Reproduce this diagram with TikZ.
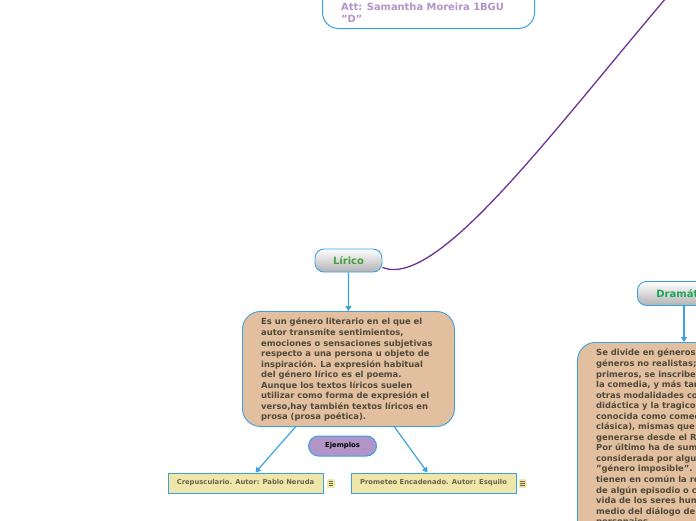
\documentclass[tikz,border=0pt]{standalone}
\usepackage{fontspec}
\setmainfont{DejaVu Sans}
\usetikzlibrary{arrows.meta}
\definecolor{bl}{HTML}{3AA2E2}
\definecolor{tanf}{HTML}{E2BF9F}
\definecolor{txt}{HTML}{4F4A3A}
\definecolor{lilac}{HTML}{B393C9}
\definecolor{purp}{HTML}{6A3495}
\definecolor{ejf}{HTML}{B194C8}
\definecolor{khaki}{HTML}{EEE7A9}
\definecolor{ktxt}{HTML}{6A6450}
\definecolor{grn1}{HTML}{45A043}
\definecolor{grn2}{HTML}{1EA55A}
\tikzset{
  arr/.style={draw=bl, line width=1.2, -{Triangle[width=6,length=5]}},
  topic/.style={draw=bl, line width=0.9, rounded corners=9, top color=white, bottom color=black!30, inner sep=0, font=\bfseries\fontsize{10}{12}\selectfont},
  desc/.style={draw=bl, line width=0.9, fill=tanf, rounded corners=18, inner sep=0},
  desctext/.style={anchor=north west, align=left, inner sep=0, text=txt, font=\bfseries\fontsize{8.4}{10.55}\selectfont},
  example/.style={draw=bl, line width=1, fill=khaki, inner sep=0, minimum height=20, text=ktxt, font=\bfseries\fontsize{6.8}{8}\selectfont},
  noteicon/.style={fill=khaki, rounded corners=1.5, minimum width=8, minimum height=9, inner sep=0},
}
\newcommand{\sq}{\char34}
\begin{document}
\begin{tikzpicture}[x=1pt,y=-1pt]
\useasboundingbox (0,0) rectangle (696,520);
\clip (0,0) rectangle (696,520);

% top box
\node (att) [draw=bl, line width=1, rounded corners=16, fill=white, minimum width=212, minimum height=60, inner sep=0, anchor=south west] at (322,29) {};
\node (attA) [anchor=base west, inner sep=0, text=lilac, font=\bfseries\fontsize{9.9}{11}\selectfont] at (341,10) {Att: Samantha Moreira 1BGU};
\node (attB) [anchor=base west, inner sep=0, text=lilac, font=\bfseries\fontsize{9.9}{11}\selectfont] at (341,22) {\sq D\sq};

% Lirico branch
\node (lir) [topic, minimum width=67, minimum height=23, text=grn1] at (348.5,260.5) {Lírico};
\node (d1) [desc, minimum width=212, minimum height=115, anchor=north west] at (242,311) {};
\node (d1t) [desctext] at (261,318) {Es un género literario en el que el\\autor transmite sentimientos,\\emociones o sensaciones subjetivas\\respecto a una persona u objeto de\\inspiración. La expresión habitual\\del género lírico es el poema.\\Aunque los textos líricos suelen\\utilizar como forma de expresión el\\verso,hay también textos líricos en\\prosa (prosa poética).};
\draw[arr] (lir.south) -- (d1.north);

\node (ej) [draw=bl, line width=1, fill=ejf, rounded corners=10, minimum width=68, minimum height=20, inner sep=0, font=\bfseries\fontsize{6.8}{8}\selectfont] at (342.5,446) {Ejemplos};

\node (crep) [example, minimum width=155] at (245.5,483) {Crepusculario. Autor: Pablo Neruda};
\node (prom) [example, minimum width=165] at (433.5,483) {Prometeo Encadenado. Autor: Esquilo};
\draw[arr] ([xshift=-53]d1.south) -- ([xshift=10]crep.north);
\draw[arr] ([xshift=46]d1.south) -- ([xshift=-6]prom.north);

\node (ic1) [noteicon] at (331,483.5) {};
\node (ic2) [noteicon] at (522.5,483.5) {};
\foreach \n in {ic1,ic2}{
  \foreach \dy in {-2.2,0,2.2}{
    \draw[ktxt, line width=0.7] ([xshift=-2.3,yshift=\dy]\n.center) -- ([xshift=2.3,yshift=\dy]\n.center);
  }
}

% Dramatico branch
\node (dra) [topic, minimum width=96, minimum height=24, text=grn2, anchor=north west] at (637,281) {Dramático};
\node (d2) [desc, minimum width=213, minimum height=200, anchor=north west] at (577,342) {};
\node (d2t) [desctext] at (596,349) {Se divide en géneros realistas y\\géneros no realistas; dentro de los\\primeros, se inscriben la tragedia,\\la comedia, y más tardíamente\\otras modalidades como la obra\\didáctica y la tragicomedia\\conocida como comedia neo\\clásica), mismas que comenzaron a\\generarse desde el Renacimiento.\\Por último ha de sumarse la ópera,\\considerada por algunos autores\\\sq género imposible\sq. Todas ellas\\tienen en común la representación\\de algún episodio o conflicto de la\\vida de los seres humanos por\\medio del diálogo de los\\personajes.};
\draw[arr] (dra.south -| d2.north) -- (d2.north);

% purple connector
\draw[purp, line width=1.3] ([yshift=-7]lir.east) .. controls (440,290) and (560,120) .. (690,-30);
\end{tikzpicture}
\end{document}
